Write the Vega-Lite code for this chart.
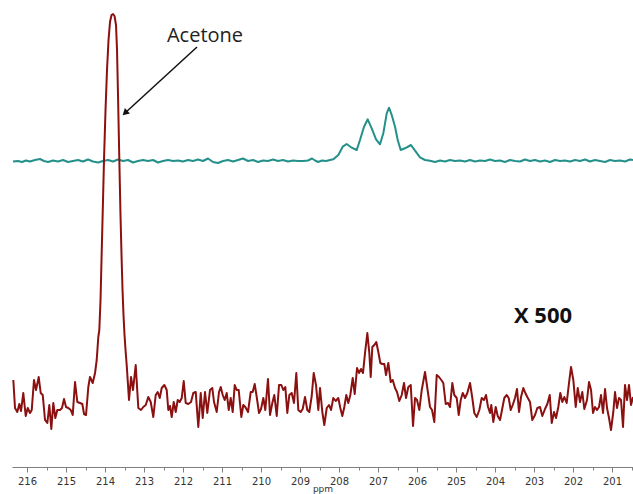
{
  "$schema": "https://vega.github.io/schema/vega-lite/v6.json",
  "width": 621,
  "height": 467,
  "autosize": {"type": "none"},
  "padding": {"left": 12, "top": 0, "right": 0, "bottom": 27},
  "background": "white",
  "config": {"view": {"stroke": null}},
  "datasets": {
    "teal": [
      {"ppm":216.359,"intensity":305.5},{"ppm":216.231,"intensity":306},{"ppm":216.128,"intensity":305},{"ppm":216.026,"intensity":306.5},{"ppm":215.923,"intensity":305.5},{"ppm":215.795,"intensity":307},{"ppm":215.667,"intensity":308},{"ppm":215.564,"intensity":306},{"ppm":215.462,"intensity":305},{"ppm":215.333,"intensity":306.5},{"ppm":215.205,"intensity":305.5},{"ppm":215.077,"intensity":307},{"ppm":214.949,"intensity":305},{"ppm":214.821,"intensity":306},{"ppm":214.692,"intensity":307},{"ppm":214.564,"intensity":305.5},{"ppm":214.436,"intensity":307.5},{"ppm":214.308,"intensity":305.5},{"ppm":214.179,"intensity":304.5},{"ppm":214.051,"intensity":306},{"ppm":213.923,"intensity":307},{"ppm":213.795,"intensity":305.5},{"ppm":213.667,"intensity":307.5},{"ppm":213.538,"intensity":306},{"ppm":213.410,"intensity":307},{"ppm":213.282,"intensity":304.5},{"ppm":213.154,"intensity":306},{"ppm":213.026,"intensity":307},{"ppm":212.897,"intensity":306},{"ppm":212.769,"intensity":307},{"ppm":212.641,"intensity":304.5},{"ppm":212.513,"intensity":306},{"ppm":212.385,"intensity":307},{"ppm":212.256,"intensity":306},{"ppm":212.128,"intensity":306.5},{"ppm":212.000,"intensity":305.5},{"ppm":211.872,"intensity":307},{"ppm":211.744,"intensity":306},{"ppm":211.615,"intensity":307.5},{"ppm":211.487,"intensity":306},{"ppm":211.359,"intensity":308.5},{"ppm":211.231,"intensity":305},{"ppm":211.103,"intensity":304},{"ppm":210.974,"intensity":306},{"ppm":210.846,"intensity":307},{"ppm":210.718,"intensity":305.5},{"ppm":210.590,"intensity":307},{"ppm":210.462,"intensity":308.5},{"ppm":210.333,"intensity":306},{"ppm":210.205,"intensity":307},{"ppm":210.077,"intensity":305},{"ppm":209.949,"intensity":306.5},{"ppm":209.821,"intensity":306},{"ppm":209.692,"intensity":307.5},{"ppm":209.564,"intensity":306},{"ppm":209.436,"intensity":307},{"ppm":209.308,"intensity":305.5},{"ppm":209.179,"intensity":306.5},{"ppm":209.051,"intensity":306},{"ppm":208.923,"intensity":306},{"ppm":208.795,"intensity":306.5},{"ppm":208.692,"intensity":308.5},{"ppm":208.615,"intensity":306.5},{"ppm":208.538,"intensity":305},{"ppm":208.436,"intensity":306.5},{"ppm":208.333,"intensity":306},{"ppm":208.231,"intensity":307},{"ppm":208.146,"intensity":307.7},{"ppm":208.018,"intensity":312},{"ppm":207.905,"intensity":320.3},{"ppm":207.803,"intensity":323},{"ppm":207.674,"intensity":319.3},{"ppm":207.546,"intensity":317},{"ppm":207.462,"intensity":327},{"ppm":207.359,"intensity":340.3},{"ppm":207.264,"intensity":347.7},{"ppm":207.162,"intensity":338.7},{"ppm":207.051,"intensity":327.7},{"ppm":206.949,"intensity":322.7},{"ppm":206.864,"intensity":333.7},{"ppm":206.777,"intensity":353.7},{"ppm":206.718,"intensity":359.3},{"ppm":206.649,"intensity":352},{"ppm":206.564,"intensity":340.3},{"ppm":206.495,"intensity":327},{"ppm":206.418,"intensity":317},{"ppm":206.308,"intensity":318.7},{"ppm":206.154,"intensity":322},{"ppm":206.051,"intensity":316.3},{"ppm":205.923,"intensity":309.7},{"ppm":205.795,"intensity":307},{"ppm":205.667,"intensity":306.3},{"ppm":205.538,"intensity":305},{"ppm":205.410,"intensity":306.5},{"ppm":205.282,"intensity":305.5},{"ppm":205.154,"intensity":307},{"ppm":205.026,"intensity":306},{"ppm":204.897,"intensity":306.5},{"ppm":204.769,"intensity":305.5},{"ppm":204.641,"intensity":307},{"ppm":204.513,"intensity":305.5},{"ppm":204.385,"intensity":306.5},{"ppm":204.256,"intensity":306},{"ppm":204.128,"intensity":307.5},{"ppm":204.000,"intensity":306},{"ppm":203.872,"intensity":306.5},{"ppm":203.744,"intensity":305},{"ppm":203.615,"intensity":307},{"ppm":203.487,"intensity":306},{"ppm":203.359,"intensity":305.5},{"ppm":203.231,"intensity":307.5},{"ppm":203.103,"intensity":306},{"ppm":202.974,"intensity":307},{"ppm":202.846,"intensity":305.5},{"ppm":202.718,"intensity":306.5},{"ppm":202.590,"intensity":305},{"ppm":202.462,"intensity":307},{"ppm":202.333,"intensity":306},{"ppm":202.205,"intensity":306.5},{"ppm":202.077,"intensity":305.5},{"ppm":201.949,"intensity":307},{"ppm":201.821,"intensity":306},{"ppm":201.692,"intensity":307.5},{"ppm":201.564,"intensity":305.5},{"ppm":201.436,"intensity":307},{"ppm":201.308,"intensity":306},{"ppm":201.179,"intensity":305},{"ppm":201.051,"intensity":307},{"ppm":200.923,"intensity":306},{"ppm":200.795,"intensity":306.5},{"ppm":200.667,"intensity":305.5},{"ppm":200.538,"intensity":307.5},{"ppm":200.462,"intensity":307}
    ],
    "red": [
      {"ppm":216.351,"intensity":87},{"ppm":216.308,"intensity":59},{"ppm":216.249,"intensity":55},{"ppm":216.197,"intensity":63},{"ppm":216.154,"intensity":56},{"ppm":216.095,"intensity":74},{"ppm":216.033,"intensity":51},{"ppm":215.982,"intensity":59},{"ppm":215.923,"intensity":54},{"ppm":215.879,"intensity":57},{"ppm":215.821,"intensity":87},{"ppm":215.769,"intensity":77},{"ppm":215.700,"intensity":90},{"ppm":215.649,"intensity":74},{"ppm":215.597,"intensity":72},{"ppm":215.538,"intensity":47},{"ppm":215.479,"intensity":44},{"ppm":215.428,"intensity":62},{"ppm":215.377,"intensity":38},{"ppm":215.326,"intensity":64},{"ppm":215.274,"intensity":49},{"ppm":215.223,"intensity":57},{"ppm":215.154,"intensity":57},{"ppm":215.103,"intensity":59},{"ppm":215.051,"intensity":68},{"ppm":215.000,"intensity":60},{"ppm":214.941,"intensity":59},{"ppm":214.879,"intensity":57},{"ppm":214.828,"intensity":52},{"ppm":214.769,"intensity":85},{"ppm":214.710,"intensity":65},{"ppm":214.641,"intensity":64},{"ppm":214.582,"intensity":63},{"ppm":214.538,"intensity":53},{"ppm":214.487,"intensity":52},{"ppm":214.428,"intensity":80},{"ppm":214.385,"intensity":90},{"ppm":214.315,"intensity":84},{"ppm":214.256,"intensity":94},{"ppm":214.213,"intensity":107},{"ppm":214.172,"intensity":130},{"ppm":214.146,"intensity":137},{"ppm":214.115,"intensity":167},{"ppm":214.090,"intensity":207},{"ppm":214.064,"intensity":247},{"ppm":214.026,"intensity":307},{"ppm":213.987,"intensity":357},{"ppm":213.949,"intensity":397},{"ppm":213.910,"intensity":427},{"ppm":213.872,"intensity":445},{"ppm":213.833,"intensity":452},{"ppm":213.795,"intensity":453},{"ppm":213.756,"intensity":451},{"ppm":213.718,"intensity":442},{"ppm":213.692,"intensity":417},{"ppm":213.667,"intensity":372},{"ppm":213.633,"intensity":307},{"ppm":213.603,"intensity":252},{"ppm":213.577,"intensity":212},{"ppm":213.551,"intensity":177},{"ppm":213.526,"intensity":152},{"ppm":213.500,"intensity":132},{"ppm":213.474,"intensity":117},{"ppm":213.444,"intensity":102},{"ppm":213.385,"intensity":67},{"ppm":213.333,"intensity":90},{"ppm":213.282,"intensity":77},{"ppm":213.213,"intensity":102},{"ppm":213.146,"intensity":59},{"ppm":213.077,"intensity":57},{"ppm":213.018,"intensity":60},{"ppm":212.956,"intensity":62},{"ppm":212.890,"intensity":70},{"ppm":212.828,"intensity":65},{"ppm":212.762,"intensity":50},{"ppm":212.700,"intensity":72},{"ppm":212.649,"intensity":75},{"ppm":212.597,"intensity":69},{"ppm":212.546,"intensity":79},{"ppm":212.479,"intensity":82},{"ppm":212.418,"intensity":77},{"ppm":212.377,"intensity":57},{"ppm":212.333,"intensity":61},{"ppm":212.290,"intensity":50},{"ppm":212.238,"intensity":65},{"ppm":212.187,"intensity":55},{"ppm":212.136,"intensity":67},{"ppm":212.085,"intensity":65},{"ppm":212.033,"intensity":69},{"ppm":211.982,"intensity":86},{"ppm":211.931,"intensity":64},{"ppm":211.864,"intensity":63},{"ppm":211.795,"intensity":65},{"ppm":211.736,"intensity":74},{"ppm":211.674,"intensity":75},{"ppm":211.608,"intensity":40},{"ppm":211.546,"intensity":74},{"ppm":211.495,"intensity":49},{"ppm":211.436,"intensity":75},{"ppm":211.377,"intensity":54},{"ppm":211.308,"intensity":77},{"ppm":211.249,"intensity":79},{"ppm":211.205,"intensity":65},{"ppm":211.136,"intensity":55},{"ppm":211.077,"intensity":75},{"ppm":211.033,"intensity":80},{"ppm":210.982,"intensity":72},{"ppm":210.931,"intensity":67},{"ppm":210.879,"intensity":74},{"ppm":210.828,"intensity":57},{"ppm":210.777,"intensity":69},{"ppm":210.726,"intensity":55},{"ppm":210.674,"intensity":82},{"ppm":210.623,"intensity":77},{"ppm":210.572,"intensity":77},{"ppm":210.505,"intensity":50},{"ppm":210.454,"intensity":62},{"ppm":210.403,"intensity":60},{"ppm":210.333,"intensity":55},{"ppm":210.264,"intensity":75},{"ppm":210.213,"intensity":75},{"ppm":210.162,"intensity":83},{"ppm":210.110,"intensity":70},{"ppm":210.051,"intensity":54},{"ppm":210.000,"intensity":58},{"ppm":209.941,"intensity":69},{"ppm":209.890,"intensity":57},{"ppm":209.821,"intensity":88},{"ppm":209.769,"intensity":52},{"ppm":209.710,"intensity":64},{"ppm":209.659,"intensity":72},{"ppm":209.597,"intensity":51},{"ppm":209.538,"intensity":82},{"ppm":209.479,"intensity":82},{"ppm":209.428,"intensity":77},{"ppm":209.377,"intensity":80},{"ppm":209.326,"intensity":54},{"ppm":209.274,"intensity":72},{"ppm":209.213,"intensity":74},{"ppm":209.154,"intensity":64},{"ppm":209.095,"intensity":94},{"ppm":209.044,"intensity":57},{"ppm":208.982,"intensity":55},{"ppm":208.931,"intensity":58},{"ppm":208.872,"intensity":70},{"ppm":208.813,"intensity":57},{"ppm":208.762,"intensity":55},{"ppm":208.700,"intensity":71},{"ppm":208.649,"intensity":94},{"ppm":208.590,"intensity":82},{"ppm":208.531,"intensity":57},{"ppm":208.487,"intensity":79},{"ppm":208.428,"intensity":55},{"ppm":208.377,"intensity":42},{"ppm":208.315,"intensity":59},{"ppm":208.256,"intensity":62},{"ppm":208.205,"intensity":57},{"ppm":208.146,"intensity":69},{"ppm":208.085,"intensity":66},{"ppm":208.018,"intensity":69},{"ppm":207.967,"intensity":59},{"ppm":207.915,"intensity":51},{"ppm":207.864,"intensity":60},{"ppm":207.813,"intensity":72},{"ppm":207.762,"intensity":64},{"ppm":207.710,"intensity":72},{"ppm":207.649,"intensity":89},{"ppm":207.597,"intensity":73},{"ppm":207.538,"intensity":99},{"ppm":207.487,"intensity":94},{"ppm":207.436,"intensity":98},{"ppm":207.385,"intensity":94},{"ppm":207.333,"intensity":114},{"ppm":207.274,"intensity":134},{"ppm":207.223,"intensity":114},{"ppm":207.187,"intensity":90},{"ppm":207.146,"intensity":120},{"ppm":207.095,"intensity":122},{"ppm":207.044,"intensity":125},{"ppm":206.992,"intensity":115},{"ppm":206.941,"intensity":104},{"ppm":206.890,"intensity":103},{"ppm":206.838,"intensity":103},{"ppm":206.795,"intensity":92},{"ppm":206.736,"intensity":104},{"ppm":206.674,"intensity":85},{"ppm":206.623,"intensity":87},{"ppm":206.564,"intensity":79},{"ppm":206.513,"intensity":75},{"ppm":206.454,"intensity":66},{"ppm":206.392,"intensity":72},{"ppm":206.333,"intensity":84},{"ppm":206.282,"intensity":69},{"ppm":206.223,"intensity":80},{"ppm":206.161,"intensity":82},{"ppm":206.102,"intensity":41},{"ppm":206.051,"intensity":69},{"ppm":206.000,"intensity":67},{"ppm":205.941,"intensity":57},{"ppm":205.879,"intensity":77},{"ppm":205.795,"intensity":95},{"ppm":205.736,"intensity":79},{"ppm":205.667,"intensity":60},{"ppm":205.615,"intensity":57},{"ppm":205.556,"intensity":45},{"ppm":205.495,"intensity":92},{"ppm":205.436,"intensity":90},{"ppm":205.377,"intensity":87},{"ppm":205.326,"intensity":84},{"ppm":205.264,"intensity":63},{"ppm":205.205,"intensity":64},{"ppm":205.154,"intensity":60},{"ppm":205.095,"intensity":84},{"ppm":205.044,"intensity":72},{"ppm":204.982,"intensity":69},{"ppm":204.931,"intensity":52},{"ppm":204.879,"intensity":67},{"ppm":204.828,"intensity":74},{"ppm":204.769,"intensity":69},{"ppm":204.710,"intensity":74},{"ppm":204.641,"intensity":84},{"ppm":204.582,"intensity":69},{"ppm":204.531,"intensity":54},{"ppm":204.469,"intensity":50},{"ppm":204.402,"intensity":57},{"ppm":204.341,"intensity":69},{"ppm":204.282,"intensity":67},{"ppm":204.231,"intensity":72},{"ppm":204.179,"intensity":60},{"ppm":204.128,"intensity":54},{"ppm":204.095,"intensity":62},{"ppm":204.044,"intensity":45},{"ppm":203.982,"intensity":60},{"ppm":203.931,"intensity":51},{"ppm":203.872,"intensity":47},{"ppm":203.821,"intensity":57},{"ppm":203.762,"intensity":69},{"ppm":203.700,"intensity":72},{"ppm":203.649,"intensity":69},{"ppm":203.597,"intensity":57},{"ppm":203.546,"intensity":62},{"ppm":203.487,"intensity":69},{"ppm":203.436,"intensity":78},{"ppm":203.385,"intensity":55},{"ppm":203.333,"intensity":70},{"ppm":203.274,"intensity":79},{"ppm":203.223,"intensity":74},{"ppm":203.172,"intensity":70},{"ppm":203.103,"intensity":65},{"ppm":203.044,"intensity":47},{"ppm":202.974,"intensity":52},{"ppm":202.915,"intensity":59},{"ppm":202.846,"intensity":60},{"ppm":202.787,"intensity":51},{"ppm":202.718,"intensity":58},{"ppm":202.659,"intensity":63},{"ppm":202.597,"intensity":72},{"ppm":202.546,"intensity":44},{"ppm":202.487,"intensity":55},{"ppm":202.436,"intensity":49},{"ppm":202.377,"intensity":60},{"ppm":202.326,"intensity":74},{"ppm":202.274,"intensity":65},{"ppm":202.223,"intensity":70},{"ppm":202.162,"intensity":64},{"ppm":202.103,"intensity":84},{"ppm":202.051,"intensity":100},{"ppm":201.992,"intensity":87},{"ppm":201.931,"intensity":60},{"ppm":201.879,"intensity":79},{"ppm":201.821,"intensity":65},{"ppm":201.762,"intensity":75},{"ppm":201.710,"intensity":58},{"ppm":201.641,"intensity":67},{"ppm":201.590,"intensity":85},{"ppm":201.538,"intensity":77},{"ppm":201.487,"intensity":54},{"ppm":201.436,"intensity":60},{"ppm":201.385,"intensity":57},{"ppm":201.333,"intensity":60},{"ppm":201.282,"intensity":72},{"ppm":201.231,"intensity":54},{"ppm":201.179,"intensity":78},{"ppm":201.128,"intensity":59},{"ppm":201.077,"intensity":49},{"ppm":201.026,"intensity":37},{"ppm":200.967,"intensity":55},{"ppm":200.923,"intensity":75},{"ppm":200.872,"intensity":59},{"ppm":200.821,"intensity":69},{"ppm":200.769,"intensity":67},{"ppm":200.718,"intensity":40},{"ppm":200.667,"intensity":82},{"ppm":200.615,"intensity":67},{"ppm":200.564,"intensity":82},{"ppm":200.513,"intensity":62},{"ppm":200.462,"intensity":70}
    ],
    "notes": [
      {"label": "Acetone", "ppm": 211.436, "intensity": 431, "style": "name"},
      {"label": "X 500", "ppm": 202.769, "intensity": 151, "style": "scale"}
    ],
    "arrow": [
      {"ppm": 211.641, "intensity": 420, "ppm2": 213.487, "intensity2": 354}
    ]
  },
  "encoding": {
    "x": {
      "field": "ppm",
      "type": "quantitative",
      "scale": {"domain": [200.462, 216.385], "reverse": true, "nice": false, "zero": false},
      "axis": {
        "title": "ppm",
        "values": [200.5,201,201.5,202,202.5,203,203.5,204,204.5,205,205.5,206,206.5,207,207.5,208,208.5,209,209.5,210,210.5,211,211.5,212,212.5,213,213.5,214,214.5,215,215.5,216],
        "labelExpr": "datum.value % 1 === 0 ? format(datum.value, 'd') : ''",
        "tickSize": {"condition": {"test": "datum.value % 1 !== 0", "value": 3}, "value": 5},
        "grid": false,
        "domainColor": "#808080",
        "tickColor": "#808080",
        "labelColor": "#333333",
        "labelFont": "DejaVu Sans",
        "labelFontSize": 10,
        "labelPadding": 4,
        "labelFlush": false,
        "titleFont": "DejaVu Sans",
        "titleFontSize": 9,
        "titleFontWeight": "normal",
        "titleColor": "#333333",
        "titlePadding": -2
      }
    },
    "y": {
      "field": "intensity",
      "type": "quantitative",
      "scale": {"domain": [0, 467], "nice": false, "zero": false},
      "axis": null
    }
  },
  "layer": [
    {
      "data": {"name": "teal"},
      "mark": {"type": "line", "color": "#23908a", "strokeWidth": 2, "strokeJoin": "round"}
    },
    {
      "data": {"name": "red"},
      "mark": {"type": "line", "color": "#8b1010", "strokeWidth": 2, "strokeJoin": "round"}
    },
    {
      "data": {"name": "arrow"},
      "mark": {"type": "rule", "color": "#111111", "strokeWidth": 1.5},
      "encoding": {
        "x2": {"field": "ppm2"},
        "y2": {"field": "intensity2"}
      }
    },
    {
      "data": {"name": "arrow"},
      "mark": {"type": "point", "shape": "triangle-up", "filled": true, "size": 55, "angle": 227, "color": "#111111", "opacity": 1},
      "encoding": {
        "x": {"field": "ppm2", "type": "quantitative"},
        "y": {"field": "intensity2", "type": "quantitative"}
      }
    },
    {
      "data": {"name": "notes"},
      "transform": [{"filter": "datum.style === 'name'"}],
      "mark": {"type": "text", "font": "Open Sans", "fontSize": 20, "color": "#222222", "align": "center", "baseline": "middle"},
      "encoding": {"text": {"field": "label"}}
    },
    {
      "data": {"name": "notes"},
      "transform": [{"filter": "datum.style === 'scale'"}],
      "mark": {"type": "text", "font": "Open Sans", "fontSize": 22, "fontWeight": "bold", "color": "#111111", "align": "center", "baseline": "middle"},
      "encoding": {"text": {"field": "label"}}
    }
  ]
}
